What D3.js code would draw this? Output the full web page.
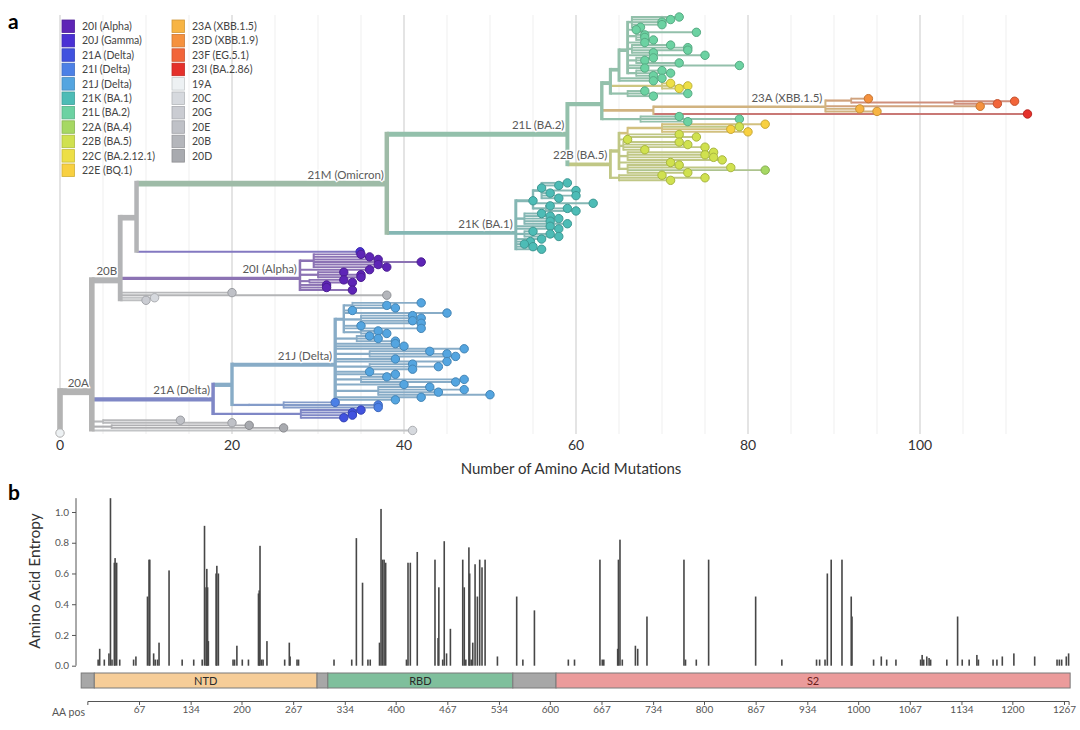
<!DOCTYPE html>
<html>
<head>
<meta charset="utf-8">
<style>
  body { margin: 0; background: #fff; }
  svg { font-family: Lato, "Open Sans", sans-serif; }
</style>
</head>
<body>
<div id="chart"></div>
<script src="https://cdn.jsdelivr.net/npm/d3@7/dist/d3.min.js"></script>
<script>
// ---------- legend / clade palette ----------
const legendNames = ["20I (Alpha)", "20J (Gamma)", "21A (Delta)", "21I (Delta)", "21J (Delta)", "21K (BA.1)",
  "21L (BA.2)", "22A (BA.4)", "22B (BA.5)", "22C (BA.2.12.1)", "22E (BQ.1)", "23A (XBB.1.5)", "23D (XBB.1.9)",
  "23F (EG.5.1)", "23I (BA.2.86)", "19A", "20C", "20G", "20E", "20B", "20D"];
const cladeKeys = ["20I", "20J", "21A", "21I", "21J", "21K", "21L", "22A", "22B", "22C", "22E", "23A", "23D",
  "23F", "23I", "19A", "20C", "20G", "20E", "20B", "20D", "20A", "21M"];
const cladeColors = ["#5e25b6", "#4a30d4", "#4152df", "#4c80e6", "#54a5e0", "#4dbcb6", "#6cd2a2", "#a6d863",
  "#d0e14f", "#eddf46", "#f8d040", "#f7b443", "#f5913e", "#f2653a", "#e5302a", "#edf1f3", "#d6d9de",
  "#caccd2", "#bfc1c7", "#b4b6bb", "#a8aaaf", "#b4b4b4", "#86c79a"];

// ---------- tree: [id, parent, divergence, clade]; tips have no id ----------
const treeRows = [
  ["root", null, 0, "20A"],
  ["n20A", "root", 3.7, "20A"],
  ["n20B", "n20A", 7, "20B"],
  ["nX", "n20B", 8.9, "20B"],
  ["n21M", "nX", 38, "21M"],
  ["n21L", "n21M", 59, "21L"],
  ["nBA2a", "n21L", 63, "21L"],
  ["nBA2b", "nBA2a", 64, "21L"],
  ["nBA2c", "nBA2b", 65, "21L"],
  ["nBA2d", "nBA2c", 66, "21L"],
  ["b1", "nBA2d", 66.5, "21L"],
  [null, "b1", 72, "21L"], [null, "b1", 71, "21L"], [null, "b1", 70, "21L"], [null, "b1", 70, "21L"], [null, "b1", 67.5, "21L"],
  [null, "nBA2d", 67, "21L"],
  ["b2", "nBA2d", 67, "21L"],
  [null, "b2", 74, "21L"], [null, "b2", 68, "21L"], [null, "b2", 68, "21L"], [null, "b2", 69, "21L"],
  [null, "nBA2d", 68, "21L"],
  ["b3", "nBA2d", 66.5, "21L"],
  [null, "b3", 71, "21L"], [null, "b3", 73, "21L"], [null, "b3", 73, "21L"], [null, "b3", 69, "21L"],
  [null, "nBA2d", 75, "21L"],
  ["b4", "nBA2d", 67, "21L"],
  [null, "b4", 69, "21L"], [null, "b4", 68, "21L"], [null, "b4", 72, "21L"],
  [null, "nBA2d", 79, "21L"],
  [null, "nBA2d", 68, "21L"],
  ["b5", "nBA2d", 67, "21L"],
  [null, "b5", 70, "21L"], [null, "b5", 71, "21L"], [null, "b5", 69, "21L"],
  [null, "nBA2c", 70, "21L"], [null, "nBA2c", 69, "21L"],
  ["n22C", "nBA2b", 70, "22C"],
  [null, "n22C", 71, "22C"], [null, "n22C", 73, "22C"], [null, "n22C", 72, "22C"],
  ["nG2", "nBA2b", 66, "21L"],
  [null, "nG2", 68, "21L"], [null, "nG2", 73, "21L"], [null, "nG2", 69, "21L"],
  ["nRec", "nBA2a", 69, "23A"],
  ["n23A", "nRec", 89, "23A"],
  ["nXa", "n23A", 92, "23D"],
  [null, "nXa", 94, "23D"],
  ["nXb", "nXa", 104, "23F"],
  [null, "nXb", 111, "23F"], [null, "nXb", 109, "23F"],
  [null, "n23A", 107, "23D"], [null, "n23A", 93, "23A"], [null, "n23A", 95, "23A"],
  [null, "nRec", 112.5, "23I"],
  ["nG", "nBA2a", 67.5, "21L"],
  [null, "nG", 72, "21L"], [null, "nG", 79, "21L"], [null, "nG", 73, "21L"],
  ["n22B", "n21L", 64, "22B"],
  ["cTop", "n22B", 65, "22B"],
  ["c1", "cTop", 66, "22E"],
  ["c1a", "c1", 70, "22E"],
  [null, "c1a", 82, "22E"], [null, "c1a", 79, "22B"], [null, "c1a", 78, "22E"], [null, "c1a", 80, "22E"],
  [null, "c1", 72, "22B"], [null, "c1", 74, "22B"],
  [null, "cTop", 66, "22B"],
  ["c2", "cTop", 65.5, "22B"],
  [null, "c2", 72, "22B"], [null, "c2", 73, "22B"], [null, "c2", 75, "22B"], [null, "c2", 68, "22B"],
  ["c3", "cTop", 66, "22B"],
  [null, "c3", 76, "22B"], [null, "c3", 75, "22B"], [null, "c3", 76, "22B"], [null, "c3", 77, "22B"],
  [null, "cTop", 71, "22B"],
  ["c4", "cTop", 66, "22B"],
  [null, "c4", 72, "22B"], [null, "c4", 78, "22B"], [null, "c4", 82, "22A"], [null, "c4", 73, "22B"],
  ["c5", "n22B", 65, "22B"],
  [null, "c5", 70, "22B"], [null, "c5", 75, "22B"], [null, "c5", 71, "22B"],
  ["n21K", "n21M", 53, "21K"],
  ["k1", "n21K", 55, "21K"],
  ["k1a", "k1", 56, "21K"],
  [null, "k1a", 59, "21K"], [null, "k1a", 58, "21K"], [null, "k1a", 56, "21K"], [null, "k1a", 60, "21K"],
  [null, "k1a", 57, "21K"], [null, "k1a", 60, "21K"], [null, "k1a", 58, "21K"],
  [null, "k1", 55, "21K"], [null, "k1", 62, "21K"],
  ["k1b", "k1", 56.5, "21K"],
  [null, "k1b", 57, "21K"], [null, "k1b", 59, "21K"], [null, "k1b", 60, "21K"],
  ["k2", "n21K", 54, "21K"],
  [null, "k2", 56, "21K"], [null, "k2", 57, "21K"], [null, "k2", 58, "21K"], [null, "k2", 57, "21K"], [null, "k2", 59, "21K"],
  [null, "n21K", 57, "21K"], [null, "n21K", 58, "21K"],
  ["k3", "n21K", 54, "21K"],
  [null, "k3", 55, "21K"], [null, "k3", 57, "21K"], [null, "k3", 58, "21K"],
  [null, "n21K", 56, "21K"], [null, "n21K", 54.7, "21K"], [null, "n21K", 54, "21K"], [null, "n21K", 55, "21K"], [null, "n21K", 56, "21K"],
  [null, "nX", 34.9, "20J"],
  ["n20I", "n20B", 27.9, "20I"],
  ["a1", "n20I", 29.5, "20I"],
  [null, "a1", 35, "20I"], [null, "a1", 36, "20I"], [null, "a1", 37, "20I"], [null, "a1", 42, "20I"], [null, "a1", 37, "20I"], [null, "a1", 38, "20I"],
  [null, "n20I", 36, "20I"],
  ["a2", "n20I", 30, "20I"],
  [null, "a2", 33, "20I"], [null, "a2", 35, "20I"], [null, "a2", 35, "20I"],
  ["a3", "n20I", 29, "20I"],
  [null, "a3", 33, "20I"], [null, "a3", 34, "20I"],
  [null, "n20I", 31, "20I"], [null, "n20I", 31, "20I"], [null, "n20I", 34, "20I"],
  [null, "n20B", 20, "20E"], [null, "n20B", 38, "20B"], [null, "n20B", 11, "20C"], [null, "n20B", 10, "20G"],
  ["n21A", "n20A", 17.8, "21A"],
  ["nD20", "n21A", 20, "21J"],
  ["n21J", "nD20", 32, "21J"],
  ["jA", "n21J", 33, "21J"],
  ["jA1", "jA", 34, "21J"],
  [null, "jA1", 42, "21J"], [null, "jA1", 38, "21J"], [null, "jA1", 39, "21J"],
  [null, "jA", 34, "21J"], [null, "jA", 45, "21J"],
  ["jA2", "jA", 35, "21J"],
  [null, "jA2", 41, "21J"], [null, "jA2", 42, "21J"], [null, "jA2", 41, "21J"], [null, "jA2", 42, "21J"],
  [null, "jA", 35, "21J"], [null, "jA", 42, "21J"],
  ["jA3", "jA", 35, "21J"],
  [null, "jA3", 37, "21J"], [null, "jA3", 38, "21J"],
  ["jB", "n21J", 34.5, "21J"],
  [null, "jB", 36, "21J"], [null, "jB", 37, "21J"], [null, "jB", 39, "21J"],
  [null, "n21J", 39, "21J"], [null, "n21J", 40, "21J"], [null, "n21J", 47, "21J"],
  ["jC", "n21J", 36, "21J"],
  [null, "jC", 43, "21J"], [null, "jC", 45, "21J"], [null, "jC", 46, "21J"],
  [null, "n21J", 39, "21J"], [null, "n21J", 45, "21J"],
  ["jD", "n21J", 36, "21J"],
  [null, "jD", 41, "21J"], [null, "jD", 44, "21J"], [null, "jD", 41, "21J"],
  [null, "n21J", 36, "21J"], [null, "n21J", 39, "21J"],
  ["jE", "n21J", 35, "21J"],
  [null, "jE", 38, "21J"], [null, "jE", 47, "21J"], [null, "jE", 46, "21J"],
  [null, "n21J", 40, "21J"],
  ["jF", "n21J", 37, "21J"],
  [null, "jF", 43, "21J"], [null, "jF", 47, "21J"], [null, "jF", 44, "21J"], [null, "jF", 50, "21J"],
  [null, "n21J", 42, "21J"], [null, "n21J", 39, "21J"],
  ["n21I", "nD20", 22, "21I"],
  ["nI2", "n21I", 26, "21I"],
  [null, "nI2", 32, "21I"], [null, "nI2", 37, "21I"], [null, "nI2", 37, "21I"],
  ["nA2", "n21A", 28, "21A"],
  [null, "nA2", 35, "21A"], [null, "nA2", 34, "21A"], [null, "nA2", 34, "21A"], [null, "nA2", 33, "21A"],
  ["g1", "n20A", 5, "20E"],
  [null, "g1", 14, "20E"], [null, "g1", 20, "20E"],
  ["g2", "n20A", 6, "20D"],
  [null, "g2", 22, "20D"], [null, "g2", 26, "20D"],
  [null, "n20A", 41, "20C"],
  [null, "root", 0, "19A"]
];

const cladeLabels = [["n20A", "20A"], ["n20B", "20B"], ["n21M", "21M (Omicron)"], ["n21L", "21L (BA.2)"],
  ["n22B", "22B (BA.5)"], ["n21K", "21K (BA.1)"], ["n23A", "23A (XBB.1.5)"], ["n20I", "20I (Alpha)"],
  ["n21A", "21A (Delta)"], ["n21J", "21J (Delta)"]];
const mutTicks = [0, 20, 40, 60, 80, 100];

// ---------- entropy panel ----------
const entropyPos = [14, 16, 22, 28, 30, 32, 35, 36, 38, 42, 60, 63, 78, 80, 81, 86, 88, 91, 93, 106, 123, 138, 149,
  152, 154, 155, 156, 157, 167, 168, 170, 189, 191, 194, 201, 209, 222, 223, 224, 226, 228, 233, 256, 262, 263,
  272, 274, 320, 343, 349, 357, 364, 367, 379, 381, 383, 385, 387, 414, 416, 419, 428, 451, 455, 456, 461, 463,
  466, 471, 487, 489, 491, 495, 496, 498, 500, 503, 506, 509, 512, 516, 532, 557, 565, 580, 624, 632, 665, 668,
  670, 688, 689, 691, 694, 711, 714, 726, 774, 776, 790, 806, 867, 901, 946, 950, 957, 960, 965, 979, 991, 992,
  1020, 1030, 1037, 1049, 1081, 1083, 1085, 1089, 1092, 1094, 1115, 1129, 1135, 1144, 1154, 1156, 1175, 1180,
  1187, 1202, 1229, 1258, 1261, 1264, 1270, 1273];
const entropyVal = [0.04, 0.11, 0.04, 0.08, 1.09, 0.04, 0.67, 0.70, 0.67, 0.04, 0.04, 0.06, 0.45, 0.69, 0.69, 0.08,
  0.04, 0.04, 0.15, 0.62, 0.04, 0.04, 0.04, 0.91, 0.51, 0.63, 0.51, 0.16, 0.60, 0.65, 0.60, 0.04, 0.04, 0.13, 0.04,
  0.04, 0.47, 0.49, 0.78, 0.04, 0.04, 0.16, 0.04, 0.15, 0.06, 0.04, 0.04, 0.04, 0.04, 0.83, 0.54, 0.04, 0.04, 0.15,
  1.02, 0.69, 0.69, 0.67, 0.04, 0.67, 0.67, 0.74, 0.69, 0.18, 0.51, 0.04, 0.81, 0.08, 0.24, 0.69, 0.51, 0.04, 0.77,
  0.60, 0.04, 0.15, 0.66, 0.45, 0.69, 0.64, 0.69, 0.06, 0.45, 0.04, 0.36, 0.04, 0.04, 0.69, 0.04, 0.04, 0.11, 0.69,
  0.82, 0.04, 0.13, 0.11, 0.32, 0.69, 0.04, 0.04, 0.69, 0.45, 0.04, 0.04, 0.04, 0.04, 0.60, 0.69, 0.69, 0.45, 0.32,
  0.04, 0.06, 0.04, 0.04, 0.04, 0.07, 0.04, 0.06, 0.05, 0.04, 0.04, 0.32, 0.04, 0.04, 0.07, 0.04, 0.04, 0.04, 0.06,
  0.08, 0.06, 0.04, 0.04, 0.04, 0.06, 0.08];
const entropyTicks = [0, 0.2, 0.4, 0.6, 0.8, 1.0];
const aaTicks = [67, 134, 200, 267, 334, 400, 467, 534, 600, 667, 734, 800, 867, 934, 1000, 1067, 1134, 1200, 1267];
const domainNames = ["", "NTD", "", "RBD", "", "S2"];
const domainStart = [-8, 9, 298, 312, 552, 608];
const domainEnd = [9, 298, 312, 552, 608, 1275];
const domainColors = ["#a7a7a7", "#f6cd98", "#a7a7a7", "#7fbf9c", "#a7a7a7", "#eb9b9b"];

// ---------- drawing ----------
const width = 1080, height = 730;
const svg = d3.select("#chart").append("svg").attr("width", width).attr("height", height);
const cladeColor = d3.scaleOrdinal().domain(cladeKeys).range(cladeColors);
const branchColor = c => d3.interpolateRgb(cladeColor(c), "#b2b2b2")(0.55);

// panel letters
svg.append("text").attr("x", 8).attr("y", 29).attr("font-size", 21).attr("font-weight", "bold").text("a");
svg.append("text").attr("x", 8).attr("y", 500).attr("font-size", 21).attr("font-weight", "bold").text("b");

// tree layout: leaves in order, internal nodes at the mean of their children
const rows = treeRows.map((r, i) => ({id: r[0] || "t" + i, parent: r[1], div: r[2], clade: r[3]}));
const root = d3.stratify().id(d => d.id).parentId(d => d.parent)(rows);
let leafCount = 0;
root.eachBefore(n => { if (!n.children) n.order = leafCount++; });
root.eachAfter(n => {
  n.tips = n.children ? d3.sum(n.children, c => c.tips) : 1;
  if (n.children) n.order = d3.mean(n.children, c => c.order);
});
const x = d3.scaleLinear().domain([0, 100]).range([60, 920]);
const y = d3.scaleLinear().domain([0, leafCount - 1]).range([17, 433]);
const thick = n => 1.5 + 5.5 * Math.sqrt(n.tips / root.tips);

// grid
svg.append("g").selectAll("line")
  .data(d3.range(0, 115, 5)).join("line")
    .attr("x1", d => x(d)).attr("x2", d => x(d))
    .attr("y1", 15).attr("y2", 434)
    .attr("stroke", d => d % 20 === 0 ? "#d9d9d9" : "#efefef")
    .attr("stroke-width", d => d % 20 === 0 ? 1.4 : 1);

const nodes = root.descendants().filter(n => n.parent).sort((a, b) => b.tips - a.tips);
const gb = svg.append("g").attr("fill", "none").attr("stroke-linecap", "butt");
gb.selectAll("path.h").data(nodes).join("path")
    .attr("d", n => `M${x(n.parent.data.div)},${y(n.order)}H${x(n.data.div)}`)
    .attr("stroke", n => branchColor(n.data.clade))
    .attr("stroke-width", thick);
gb.selectAll("path.v").data(root.descendants().filter(n => n.children)).join("path")
    .attr("d", n => {
      const a = n.children[0], b = n.children[n.children.length - 1];
      return `M${x(n.data.div)},${y(a.order) - thick(a) / 2}V${y(b.order) + thick(b) / 2}`;
    })
    .attr("stroke", n => branchColor(n.data.clade))
    .attr("stroke-width", n => Math.max(1.6, thick(n) * 0.8));

svg.append("g").selectAll("circle")
  .data(root.leaves()).join("circle")
    .attr("cx", n => x(n.data.div)).attr("cy", n => y(n.order)).attr("r", 4.2)
    .attr("fill", n => cladeColor(n.data.clade))
    .attr("stroke", n => n.data.clade === "19A" ? "#b0b0b0" : d3.color(cladeColor(n.data.clade)).darker(0.6))
    .attr("stroke-width", 1);

// clade labels
const byId = new Map(root.descendants().map(n => [n.id, n]));
svg.append("g").selectAll("text")
  .data(cladeLabels).join("text")
    .attr("x", d => x(byId.get(d[0]).data.div) - 3)
    .attr("y", d => y(byId.get(d[0]).order) - 5)
    .attr("text-anchor", "end").attr("font-size", 11.5).attr("fill", "#5a5a5a")
    .attr("stroke", "#fff").attr("stroke-width", 2.5).attr("paint-order", "stroke")
    .text(d => d[1]);

// tree x axis
svg.append("g").selectAll("text")
  .data(mutTicks).join("text")
    .attr("x", d => x(d)).attr("y", 450).attr("text-anchor", "middle")
    .attr("font-size", 14).attr("fill", "#333").text(d => d);
svg.append("text").attr("x", 571).attr("y", 474).attr("text-anchor", "middle")
  .attr("font-size", 15).attr("fill", "#333").text("Number of Amino Acid Mutations");

// legend
const lg = svg.append("g").selectAll("g")
  .data(legendNames).join("g")
    .attr("transform", (d, i) => `translate(${i < 11 ? 62 : 172},${20 + (i % 11) * 14.4})`);
lg.append("rect").attr("width", 12.5).attr("height", 12.5)
  .attr("fill", (d, i) => cladeColor(cladeKeys[i]))
  .attr("stroke", (d, i) => d3.color(cladeColor(cladeKeys[i])).darker(0.5)).attr("stroke-width", 0.8);
lg.append("text").attr("x", 20).attr("y", 10).attr("font-size", 10.5).attr("fill", "#444").text(d => d);

// entropy
const ax = d3.scaleLinear().domain([0, 1273]).range([87.35, 1068.6]);
const ey = d3.scaleLinear().domain([0, 1]).range([665.7, 512]);
svg.append("g").selectAll("rect")
  .data(entropyPos).join("rect")
    .attr("x", d => ax(d) - 0.8).attr("width", 1.6)
    .attr("y", (d, i) => ey(entropyVal[i])).attr("height", (d, i) => ey(0) - ey(entropyVal[i]))
    .attr("fill", "#474747");

const yAx = svg.append("g").attr("transform", "translate(76,0)")
  .call(d3.axisLeft(ey).tickValues(entropyTicks).tickFormat(d3.format(".1f")).tickSize(4).tickSizeOuter(0));
yAx.select(".domain").attr("d", `M0,${ey(1.09)}V${ey(0)}`).attr("stroke", "#555");
yAx.selectAll(".tick line").attr("stroke", "#555");
yAx.selectAll("text").attr("font-size", 10).attr("fill", "#555").attr("font-family", "Lato, sans-serif");
svg.append("text").attr("transform", "translate(40,581) rotate(-90)").attr("text-anchor", "middle")
  .attr("font-size", 15.5).attr("fill", "#333").text("Amino Acid Entropy");

// genome annotation bar
const dg = svg.append("g").selectAll("g").data(domainNames).join("g");
dg.append("rect")
  .attr("x", (d, i) => ax(domainStart[i])).attr("width", (d, i) => ax(domainEnd[i]) - ax(domainStart[i]))
  .attr("y", 673).attr("height", 15)
  .attr("fill", (d, i) => domainColors[i]).attr("stroke", "#7a7a7a").attr("stroke-width", 1);
dg.append("text")
  .attr("x", (d, i) => (ax(domainStart[i]) + ax(domainEnd[i])) / 2).attr("y", 684.5)
  .attr("text-anchor", "middle").attr("font-size", 11).attr("fill", (d, i) => i === 5 ? "#6a1c1c" : "#2a2a2a")
  .text(d => d);

// AA position axis
const xAx = svg.append("g").attr("transform", "translate(0,701)")
  .call(d3.axisBottom(ax).tickValues(aaTicks).tickFormat(d3.format("d")).tickSize(4).tickSizeOuter(4));
xAx.selectAll(".domain, .tick line").attr("stroke", "#555");
xAx.selectAll("text").attr("font-size", 10).attr("fill", "#555").attr("font-family", "Lato, sans-serif").attr("dy", "0.5em");
svg.append("text").attr("x", 52).attr("y", 716).attr("font-size", 10.5).attr("fill", "#555").text("AA pos");
</script>
</body>
</html>
